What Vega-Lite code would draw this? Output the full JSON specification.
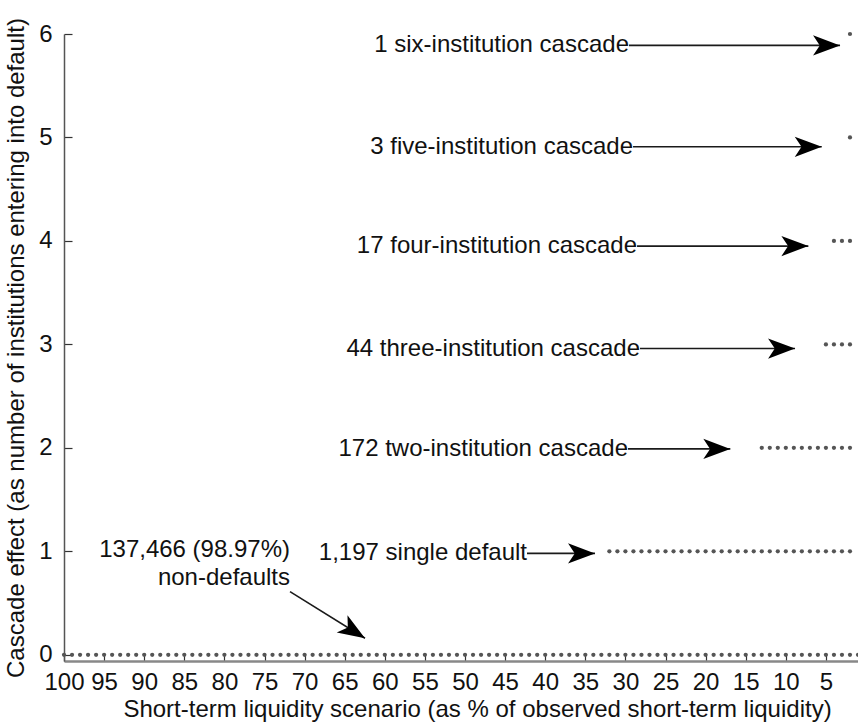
{
  "$schema": "https://vega.github.io/schema/vega-lite/v6.json",
  "width": 794,
  "height": 627,
  "autosize": {"type": "none"},
  "padding": {"left": 64, "top": 34, "right": 0, "bottom": 66},
  "background": "white",
  "config": {
    "view": {"stroke": null},
    "font": "Liberation Sans",
    "axis": {"grid": false, "labelFont": "Liberation Sans", "titleFont": "Liberation Sans", "labelColor": "#111", "titleColor": "#111", "titleFontWeight": "normal"}
  },
  "datasets": {
    "dots": [
      {"s":100,"c":0},{"s":99,"c":0},{"s":98,"c":0},{"s":97,"c":0},{"s":96,"c":0},{"s":95,"c":0},{"s":94,"c":0},{"s":93,"c":0},{"s":92,"c":0},{"s":91,"c":0},
      {"s":90,"c":0},{"s":89,"c":0},{"s":88,"c":0},{"s":87,"c":0},{"s":86,"c":0},{"s":85,"c":0},{"s":84,"c":0},{"s":83,"c":0},{"s":82,"c":0},{"s":81,"c":0},
      {"s":80,"c":0},{"s":79,"c":0},{"s":78,"c":0},{"s":77,"c":0},{"s":76,"c":0},{"s":75,"c":0},{"s":74,"c":0},{"s":73,"c":0},{"s":72,"c":0},{"s":71,"c":0},
      {"s":70,"c":0},{"s":69,"c":0},{"s":68,"c":0},{"s":67,"c":0},{"s":66,"c":0},{"s":65,"c":0},{"s":64,"c":0},{"s":63,"c":0},{"s":62,"c":0},{"s":61,"c":0},
      {"s":60,"c":0},{"s":59,"c":0},{"s":58,"c":0},{"s":57,"c":0},{"s":56,"c":0},{"s":55,"c":0},{"s":54,"c":0},{"s":53,"c":0},{"s":52,"c":0},{"s":51,"c":0},
      {"s":50,"c":0},{"s":49,"c":0},{"s":48,"c":0},{"s":47,"c":0},{"s":46,"c":0},{"s":45,"c":0},{"s":44,"c":0},{"s":43,"c":0},{"s":42,"c":0},{"s":41,"c":0},
      {"s":40,"c":0},{"s":39,"c":0},{"s":38,"c":0},{"s":37,"c":0},{"s":36,"c":0},{"s":35,"c":0},{"s":34,"c":0},{"s":33,"c":0},{"s":32,"c":0},{"s":31,"c":0},
      {"s":30,"c":0},{"s":29,"c":0},{"s":28,"c":0},{"s":27,"c":0},{"s":26,"c":0},{"s":25,"c":0},{"s":24,"c":0},{"s":23,"c":0},{"s":22,"c":0},{"s":21,"c":0},
      {"s":20,"c":0},{"s":19,"c":0},{"s":18,"c":0},{"s":17,"c":0},{"s":16,"c":0},{"s":15,"c":0},{"s":14,"c":0},{"s":13,"c":0},{"s":12,"c":0},{"s":11,"c":0},
      {"s":10,"c":0},{"s":9,"c":0},{"s":8,"c":0},{"s":7,"c":0},{"s":6,"c":0},{"s":5,"c":0},{"s":4,"c":0},{"s":3,"c":0},{"s":2,"c":0},{"s":1,"c":0},
      {"s":32,"c":1},{"s":31,"c":1},{"s":30,"c":1},{"s":29,"c":1},{"s":28,"c":1},{"s":27,"c":1},{"s":26,"c":1},{"s":25,"c":1},{"s":24,"c":1},{"s":23,"c":1},
      {"s":22,"c":1},{"s":21,"c":1},{"s":20,"c":1},{"s":19,"c":1},{"s":18,"c":1},{"s":17,"c":1},{"s":16,"c":1},{"s":15,"c":1},{"s":14,"c":1},{"s":13,"c":1},
      {"s":12,"c":1},{"s":11,"c":1},{"s":10,"c":1},{"s":9,"c":1},{"s":8,"c":1},{"s":7,"c":1},{"s":6,"c":1},{"s":5,"c":1},{"s":4,"c":1},{"s":3,"c":1},
      {"s":2,"c":1},
      {"s":13,"c":2},{"s":12,"c":2},{"s":11,"c":2},{"s":10,"c":2},{"s":9,"c":2},{"s":8,"c":2},{"s":7,"c":2},{"s":6,"c":2},{"s":5,"c":2},{"s":4,"c":2},
      {"s":3,"c":2},{"s":2,"c":2},
      {"s":5,"c":3},{"s":4,"c":3},{"s":3,"c":3},{"s":2,"c":3},
      {"s":4,"c":4},{"s":3,"c":4},{"s":2,"c":4},
      {"s":2,"c":5},
      {"s":2,"c":6}
    ],
    "labels": [
      {"text":"1 six-institution cascade","x":29.55,"y":5.89},
      {"text":"3 five-institution cascade","x":29.05,"y":4.91},
      {"text":"17 four-institution cascade","x":28.55,"y":3.95},
      {"text":"44 three-institution cascade","x":28.18,"y":2.96},
      {"text":"172 two-institution cascade","x":29.68,"y":1.99},
      {"text":"1,197 single default","x":42.27,"y":0.98},
      {"text":"137,466 (98.97%)","x":71.82,"y":1.01},
      {"text":"non-defaults","x":71.82,"y":0.745}
    ],
    "arrows": [
      {"x":29.55,"y":5.89,"x2":3.24,"y2":5.89,"angle":0},
      {"x":29.05,"y":4.91,"x2":5.52,"y2":4.91,"angle":0},
      {"x":28.55,"y":3.95,"x2":7.19,"y2":3.95,"angle":0},
      {"x":28.18,"y":2.96,"x2":8.85,"y2":2.96,"angle":0},
      {"x":29.68,"y":1.99,"x2":16.92,"y2":1.99,"angle":0},
      {"x":42.27,"y":0.98,"x2":33.79,"y2":0.98,"angle":0},
      {"x":71.82,"y":0.61,"x2":62.47,"y2":0.16,"angle":32}
    ]
  },
  "layer": [
    {
      "data": {"name": "dots"},
      "mark": {"type": "point", "filled": true, "shape": "circle", "size": 18, "color": "#555", "opacity": 1},
      "encoding": {
        "x": {
          "field": "s", "type": "quantitative",
          "scale": {"domain": [1, 100], "reverse": true, "nice": false, "zero": false},
          "axis": {
            "values": [100,95,90,85,80,75,70,65,60,55,50,45,40,35,30,25,20,15,10,5],
            "format": "d",
            "title": "Short-term liquidity scenario (as % of observed short-term liquidity)",
            "labelFontSize": 24, "titleFontSize": 24,
            "tickSize": -7, "tickColor": "#333", "tickWidth": 1.2,
            "domainColor": "#888", "domainWidth": 2.5,
            "labelPadding": 16, "labelOverlap": false, "labelFlush": false, "labelBound": false,
            "titlePadding": 3, "titleX": 413
          }
        },
        "y": {
          "field": "c", "type": "quantitative",
          "scale": {"domain": [-0.06, 6], "nice": false, "zero": false},
          "axis": {
            "values": [0,1,2,3,4,5,6],
            "format": "d",
            "title": "Cascade effect (as number of institutions entering into default)",
            "labelFontSize": 24, "titleFontSize": 24,
            "tickSize": -8, "tickColor": "#333", "tickWidth": 1.2,
            "domainColor": "#555", "domainWidth": 1.5,
            "labelPadding": 20, "labelOverlap": false, "labelFlush": false, "labelBound": false,
            "titlePadding": 10
          }
        }
      }
    },
    {
      "data": {"name": "arrows"},
      "mark": {"type": "rule", "color": "#1a1a1a", "strokeWidth": 1.6},
      "encoding": {
        "x": {"field": "x", "type": "quantitative"},
        "y": {"field": "y", "type": "quantitative"},
        "x2": {"field": "x2"},
        "y2": {"field": "y2"}
      }
    },
    {
      "data": {"name": "arrows"},
      "mark": {"type": "point", "filled": true, "shape": "M0,0 L-2,-0.75 L-1.5,0 L-2,0.75 Z", "size": 729, "color": "#000", "opacity": 1},
      "encoding": {
        "x": {"field": "x2", "type": "quantitative"},
        "y": {"field": "y2", "type": "quantitative"},
        "angle": {"field": "angle", "type": "quantitative", "scale": null}
      }
    },
    {
      "data": {"name": "labels"},
      "mark": {"type": "text", "align": "right", "baseline": "middle", "fontSize": 24, "color": "#111", "font": "Liberation Sans"},
      "encoding": {
        "x": {"field": "x", "type": "quantitative"},
        "y": {"field": "y", "type": "quantitative"},
        "text": {"field": "text"}
      }
    }
  ]
}
